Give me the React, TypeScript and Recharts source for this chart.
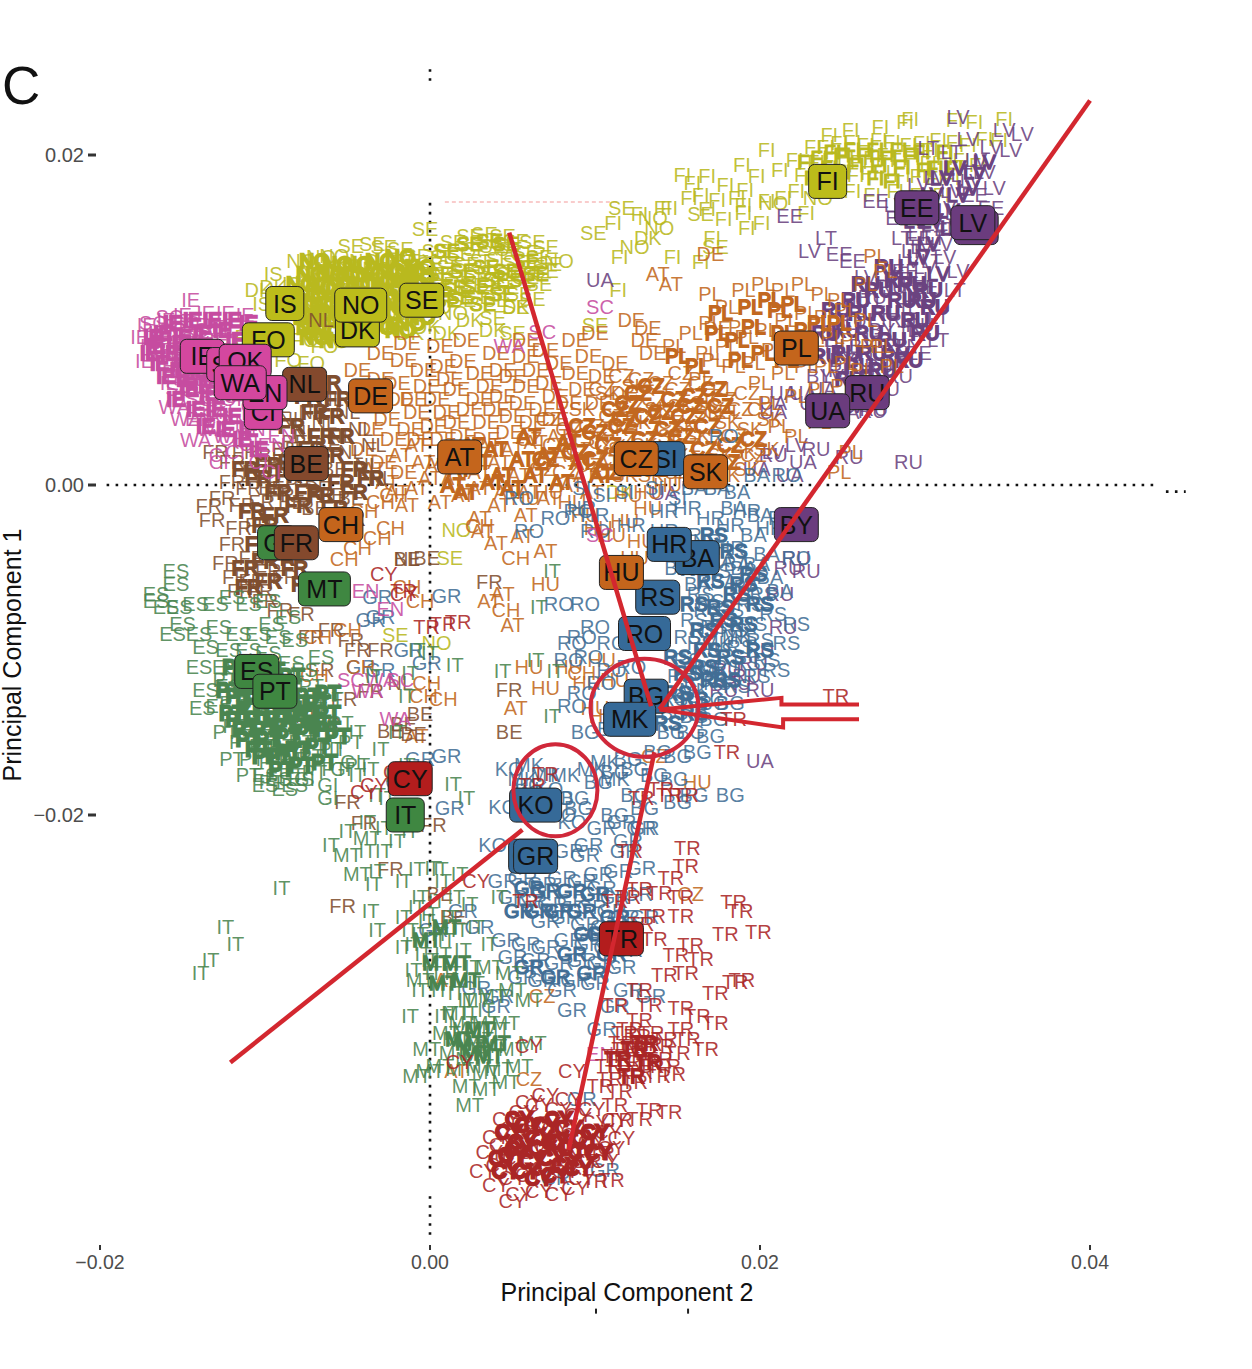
import React from "react";
import { ScatterChart, Scatter, XAxis, YAxis, ReferenceLine, ReferenceDot } from "recharts";

type P = number[];

const SE: P[] = [[-3,155],[-35,146],[-48,145],[-28,144],[-18,143],[-8,139],[3,142],[14,147],[24,151],[33,152],[44,151],[52,148],[62,147],[70,144],[-14,136],[0,134],[8,138],[18,140],[28,143],[38,145],[48,143],[58,141],[66,138],[72,134],[-10,128],[2,128],[12,132],[22,134],[32,136],[42,137],[52,135],[62,132],[70,130],[-4,121],[8,122],[18,126],[28,128],[38,129],[48,128],[58,126],[66,122],[6,116],[16,119],[26,121],[36,122],[46,120],[54,116],[62,113],[20,112],[30,114],[40,112],[52,108],[38,101],[50,92],[116,168],[99,153],[164,164],[173,144],[100,97],[12,-44],[-21,-91]];
const NO: P[] = [[-78,136],[-66,138],[-58,139],[-70,130],[-60,131],[-50,133],[-40,136],[-62,124],[-52,126],[-42,128],[-32,131],[-22,132],[-56,118],[-46,120],[-36,122],[-26,124],[-16,124],[-50,112],[-40,114],[-30,116],[-20,117],[-10,114],[-58,106],[-48,104],[-34,106],[-24,108],[-14,104],[4,108],[14,104],[78,136],[124,144],[139,156],[135,162],[235,174],[208,171],[16,-27],[4,-96]];
const DK: P[] = [[-104,118],[-95,120],[-80,112],[-60,100],[-48,92],[-36,96],[-24,98],[-12,92],[-2,96],[10,92],[24,100],[38,94],[52,108],[-66,92],[132,150],[115,-4]];
const IS: P[] = [[-95,128],[-84,122],[-102,110],[-92,105],[-74,118],[-66,110]];
const FO: P[] = [[-110,90],[-76,88],[-64,84],[-86,76],[-72,74]];
const SE_CORE: P[] = [[-72,128],[-60,128],[-48,128],[-36,128],[-24,130],[-12,130],[-72,116],[-60,116],[-48,116],[-36,116],[-24,118],[-10,122],[-68,104],[-56,104],[-44,98],[-62,94],[-32,110],[-18,108],[-72,96],[-78,122],[-66,120],[-54,122],[-42,122],[-30,124],[-18,124],[-6,126],[-76,110],[-64,110],[-52,110],[-42,108],[-28,112],[-14,114],[-74,102],[-62,100],[-50,100],[-38,102],[-26,104],[-12,98],[-70,90],[-58,88],[-30,96],[-18,94],[-6,102],[-70,136],[-56,134],[-44,134],[-30,136],[-18,138],[-6,132]];
const SE_NET: P[] = [[6,128],[20,130],[34,132],[46,130],[14,120],[28,120],[40,124],[4,118],[10,112],[0,112],[10,142],[24,146],[36,148],[46,146],[58,136],[56,124],[64,128],[44,116],[32,110],[18,114]];
const FI: P[] = [[204,203],[189,194],[168,187],[179,182],[164,176],[191,179],[212,191],[221,197],[242,212],[255,215],[273,217],[288,220],[291,222],[318,221],[330,220],[348,222],[345,209],[303,203],[115,138],[147,138],[164,135],[114,118],[153,188],[159,183],[157,174],[174,173],[168,167],[190,165],[201,159],[192,156],[228,165],[171,150],[145,168],[141,168],[127,164],[111,159],[232,205],[240,205],[248,207],[256,208],[264,206],[272,209],[280,208],[290,206],[298,207],[308,209],[318,208],[326,206],[336,210],[234,196],[243,197],[252,199],[260,196],[268,198],[276,200],[284,197],[292,198],[302,195],[312,198],[322,197],[332,194],[226,188],[238,187],[248,190],[258,188],[266,189],[274,190],[286,188],[296,187],[306,186],[316,186],[244,178],[256,178],[268,176],[282,178],[296,176],[310,176],[222,178],[214,174],[204,172],[190,170],[198,187],[186,174],[178,161]];
const FI_CORE: P[] = [[236,198],[250,200],[264,200],[278,198],[292,200],[250,190],[270,186],[228,196],[242,192],[258,194],[272,194],[286,193],[300,191],[244,202],[256,203],[270,203],[284,203],[298,202],[312,202],[232,186],[280,184],[306,192],[318,192]];

const IE: P[] = [[-145,112],[-173,75],[-176,90],[-170,84],[-172,97],[-150,103],[-136,104],[-124,104],[-112,103],[-160,100],[-165,92],[-158,90],[-150,95],[-140,97],[-130,96],[-120,95],[-162,82],[-154,84],[-146,86],[-138,88],[-128,88],[-160,72],[-152,75],[-144,76],[-158,62],[-150,66],[-142,68],[-132,72]];
const SC: P[] = [[-168,98],[-158,102],[-148,98],[-156,94],[-142,92],[-134,94],[-148,80],[-140,82],[-152,58],[-144,60],[-135,64],[-140,52],[-132,50],[-125,54],[-130,42],[103,108],[68,93],[-48,-118],[-18,-118],[103,-30]];
const WA: P[] = [[-155,47],[-142,27],[-148,40],[-132,34],[-122,30],[48,84],[-21,-142],[-38,-125],[-30,-118]];
const OK: P[] = [[-120,82],[-110,88],[-126,60],[-118,52],[-106,48]];
const EN: P[] = [[-140,40],[-128,44],[-118,38],[-108,34],[-96,24],[-90,30],[-39,-64],[103,-345],[-24,-75]];
const CI: P[] = [[-118,20],[-110,25],[-128,18],[-122,28],[-104,14],[-96,8],[-128,14]];
const IE_CORE: P[] = [[-162,92],[-150,90],[-138,92],[-126,94],[-158,80],[-146,80],[-134,82],[-152,70],[-140,70],[-146,58],[-134,56],[-120,42],[-110,34],[-132,66],[-168,90],[-170,80],[-164,74],[-156,98],[-144,100],[-132,100],[-120,100],[-110,98],[-154,86],[-142,84],[-128,80],[-118,88],[-160,66],[-148,64],[-138,60],[-124,70],[-154,52],[-142,46],[-130,46],[-136,36],[-124,34],[-114,28],[-104,22],[-118,56],[-108,44],[-150,76],[-166,84]];

const FR: P[] = [[-134,-13],[-132,-21],[-124,-47],[-115,-64],[-103,-64],[-91,-76],[-48,-94],[48,-124],[36,-59],[2,-206],[-24,-233],[-53,-255],[-130,20],[-120,14],[-112,20],[-106,8],[-120,2],[-110,-2],[-98,2],[-126,-8],[-114,-12],[-102,-10],[-90,-6],[-116,-26],[-104,-24],[-120,-36],[-108,-44],[-118,-56],[-108,-58],[-98,-52],[-88,-56],[-100,-70],[-78,-78],[-60,-88],[-72,-92],[-44,-100],[-66,-112],[-52,-130],[-36,-125],[-30,-100],[-40,-205],[-50,-192],[-62,-145]];
const BE: P[] = [[-75,30],[-62,24],[-96,18],[-88,22],[-82,26],[-90,10],[-80,4],[-68,2],[-58,10],[-96,-2],[-84,-10],[-70,-14],[-60,-6],[-48,-8],[-14,-45],[-2,-44],[-10,-151],[-16,-145],[-6,-139],[48,-150],[-24,-149],[6,-248],[14,-262]];
const NL: P[] = [[-66,100],[-50,44],[-60,52],[-72,44],[-84,40],[-92,48],[-76,32],[-64,38],[-54,30],[-42,34],[-34,24],[-14,-45],[-48,20],[-38,12],[-30,4],[-74,-140],[-18,-120]];
const CH: P[] = [[-40,-16],[-30,-10],[-22,-6],[-44,-38],[-32,-32],[-24,-26],[-52,-45],[-14,-62],[-6,-70],[46,-76],[-70,-115],[-42,-110],[8,-130],[-2,-120],[-4,-128],[30,-25],[52,-44],[92,-114],[-68,-92],[-50,-88]];
const FR_CORE: P[] = [[-112,10],[-98,12],[-86,6],[-74,-4],[-60,18],[-72,22],[-108,-16],[-94,-18],[-82,-50],[-104,-36],[-98,-58],[-60,42],[-74,54],[-62,62],[-96,-38],[-104,4],[-92,-4],[-80,-12],[-66,-6],[-54,2],[-46,10],[-100,-24],[-88,-30],[-112,-50],[-100,-46],[-90,-44],[-76,-60],[-110,-62],[-84,14],[-70,12],[-54,30],[-66,30],[-84,36],[-70,44],[-56,52],[-46,-4],[-36,4],[-58,-14],[-48,-20]];

const DE: P[] = [[-30,80],[-16,76],[-4,70],[8,72],[20,75],[30,68],[44,70],[58,78],[70,82],[88,88],[100,92],[112,74],[122,100],[130,88],[170,140],[174,95],[132,95],[135,80],[-20,62],[-10,52],[4,52],[16,58],[30,52],[44,54],[58,60],[72,62],[88,68],[104,66],[-26,40],[-12,34],[2,36],[16,38],[34,38],[50,42],[68,46],[84,50],[102,50],[118,56],[-22,28],[-8,44],[10,44],[24,46],[40,46],[56,50],[76,54],[-36,34],[-18,52],[-2,60],[12,64],[36,60],[50,66],[64,70],[92,58],[-44,70],[-30,64],[-40,22],[-28,14],[-16,8],[-6,28],[8,28],[20,30],[34,28],[48,32],[62,38],[76,40],[-14,86],[6,84],[22,88],[40,80],[58,88],[78,74],[96,78]];
const AT: P[] = [[-18,18],[-8,24],[4,12],[14,4],[30,8],[42,14],[54,6],[68,12],[82,18],[94,6],[108,14],[30,-20],[32,-28],[56,-31],[40,-35],[70,-40],[44,-66],[36,-70],[50,-85],[-8,-152],[52,-135],[42,-12],[58,-18],[-20,-4],[-8,-2],[6,-10],[20,-6],[138,128],[146,122],[10,-300],[16,-355],[-34,10],[-26,2],[-14,-12],[0,4],[10,16],[24,20],[36,24],[50,22],[64,26],[78,30],[-4,14],[30,-2],[46,-4],[60,-4],[72,-8],[86,0],[98,-4]];
const CZ: P[] = [[72,40],[84,34],[98,36],[110,42],[122,48],[136,52],[150,58],[164,62],[60,28],[76,24],[90,22],[104,26],[118,30],[132,34],[146,38],[160,42],[174,44],[188,46],[68,10],[82,8],[96,12],[110,16],[126,18],[142,20],[156,24],[170,28],[184,30],[136,-164],[158,-248],[68,-310],[60,-360],[140,62],[152,68],[128,64],[116,66],[104,58],[178,52],[192,56],[200,46],[196,18]];
const SK: P[] = [[92,46],[108,56],[124,60],[138,46],[152,48],[166,50],[180,38],[194,34],[206,40],[100,28],[116,22],[130,24],[146,30],[162,30],[176,18],[190,20],[204,22],[118,6],[134,6],[150,8],[166,14],[180,6],[192,10],[142,14],[168,6],[132,14],[154,36],[168,44],[112,34],[126,38]];
const PL: P[] = [[148,84],[158,92],[170,98],[180,108],[190,118],[202,122],[214,118],[226,122],[238,116],[248,112],[168,80],[180,84],[192,90],[204,94],[216,100],[228,104],[240,102],[252,106],[264,100],[184,72],[196,74],[208,82],[220,84],[232,88],[244,90],[256,88],[268,84],[164,64],[178,58],[200,62],[214,68],[228,72],[240,72],[252,74],[206,50],[222,54],[236,58],[250,60],[262,70],[274,84],[280,72],[188,96],[170,116],[270,139],[276,130],[264,122],[212,36],[222,30],[236,38],[255,20],[248,8],[182,44],[172,76]];
const HU: P[] = [[58,-8],[72,-4],[86,-10],[94,-18],[102,-26],[70,-60],[95,-120],[112,-118],[104,-106],[110,-30],[118,-22],[128,-34],[132,-14],[124,-44],[84,-110],[100,-135],[105,-140],[70,-123],[60,-110],[162,-180],[120,-6],[132,-4],[144,0],[156,4]];
const AT_CORE: P[] = [[22,-4],[18,10],[44,6],[56,16],[80,2],[104,6],[30,14],[38,2],[50,-2],[64,6],[72,18],[92,14],[14,0],[26,24],[40,22],[60,30],[84,26]];
const CZ_CORE: P[] = [[70,16],[88,20],[100,32],[116,36],[130,28],[146,18],[120,50],[132,42],[120,10],[108,24],[124,20],[138,22],[152,30],[166,22],[180,14],[112,46],[126,56],[140,44],[154,42],[168,36],[182,24],[196,28],[148,52],[160,54],[172,58],[136,10],[158,12],[100,16],[92,36],[108,8],[144,34],[158,48],[176,48],[134,60],[118,40]];
const PL_CORE: P[] = [[196,96],[212,106],[228,94],[202,80],[186,88],[174,92],[220,110],[236,98],[248,98],[214,92],[194,108],[206,112],[176,104],[188,76],[216,76],[150,78],[162,72]];

const SI: P[] = [[92,-2],[104,-6],[118,-4],[136,-2],[150,-8],[160,2]];
const HR: P[] = [[100,-18],[122,-24],[142,-16],[156,-14],[170,-20],[182,-24],[142,-28],[156,-30],[168,-34],[182,-38],[92,-14],[192,-16],[206,-26]];
const BA: P[] = [[172,8],[198,6],[174,-2],[186,-4],[200,-18],[176,-46],[190,-50],[204,-42],[178,-58],[192,-62],[206,-56],[212,-64],[150,-50],[162,-60],[160,-2],[184,-14],[196,-30],[186,-48],[198,-48]];
const RS: P[] = [[170,-70],[182,-76],[194,-72],[160,-82],[172,-86],[184,-88],[196,-84],[208,-78],[164,-96],[176,-100],[188,-98],[200,-94],[156,-106],[168,-110],[180,-110],[192,-108],[204,-106],[162,-118],[174,-120],[186,-122],[198,-116],[210,-112],[216,-96],[222,-84],[156,-92],[152,-116],[148,-130],[164,-66],[174,-52],[168,-76],[202,-66],[190,-92]];
const RO: P[] = [[178,30],[164,6],[216,6],[90,-16],[100,-28],[60,-28],[214,-20],[222,-44],[94,-72],[78,-72],[100,-86],[92,-92],[86,-96],[96,-104],[84,-106],[104,-120],[92,-126],[86,-134],[110,-112],[122,-110],[110,-96],[76,-20],[54,-8]];
const BG: P[] = [[156,-128],[170,-130],[182,-132],[148,-138],[160,-140],[172,-142],[146,-150],[158,-150],[170,-152],[138,-162],[150,-164],[162,-162],[124,-172],[136,-176],[148,-178],[124,-188],[112,-174],[102,-180],[120,-166],[160,-188],[182,-188],[150,-192],[130,-196],[112,-200],[60,-182],[90,-196],[172,-132],[110,-148],[94,-150],[88,-190]];
const MK: P[] = [[174,-96],[186,-92],[172,-112],[160,-124],[60,-170],[70,-176],[56,-178],[98,-172],[106,-168],[82,-176],[112,-178]];
const KO: P[] = [[38,-218],[48,-172],[60,-186],[44,-195],[72,-184],[78,-190],[66,-196],[80,-200],[86,-204]];
const GR: P[] = [[-6,-166],[-18,-180],[10,-164],[12,-196],[-30,-80],[-32,-68],[-36,-82],[10,-67],[-13,-100],[-2,-108],[-30,-112],[-42,-110],[128,-208],[116,-204],[120,-216],[104,-208],[96,-218],[84,-222],[94,-224],[102,-236],[114,-234],[128,-232],[44,-240],[56,-238],[68,-242],[80,-238],[92,-240],[104,-244],[112,-250],[126,-248],[50,-250],[62,-252],[74,-254],[86,-252],[98,-256],[110,-258],[70,-264],[82,-262],[94,-266],[106,-268],[118,-262],[130,-262],[84,-276],[96,-278],[108,-280],[120,-282],[92,-288],[104,-290],[116,-292],[46,-276],[58,-278],[70,-280],[50,-286],[64,-288],[78,-290],[88,-300],[100,-302],[56,-298],[68,-300],[80,-306],[30,-268],[28,-305],[42,-310],[86,-318],[112,-316],[120,-306],[134,-310],[104,-330],[92,-372],[76,-420],[106,-415],[40,-316],[130,-208],[118,-222],[20,-258],[2,-270]];
const RS_CORE: P[] = [[168,-100],[182,-104],[178,-82],[160,-130],[172,-118],[190,-60],[200,-72],[160,-138],[166,-88],[176,-74],[186,-66],[196,-54],[170,-58],[160,-50],[184,-40],[172,-30],[190,-84],[200,-100],[166,-110],[180,-118],[150,-126],[144,-144],[156,-114],[150,-104],[160,-72]];
const GR_CORE: P[] = [[70,-246],[86,-246],[100,-248],[92,-258],[104,-272],[60,-244],[54,-258],[66,-258],[78,-258],[112,-262],[96,-272],[110,-284],[86,-284],[98,-296],[76,-298],[60,-292]];

const EE: P[] = [[218,163],[270,172],[284,162],[296,150],[306,158],[288,130],[330,176],[340,168],[300,120],[296,80],[248,140],[256,136]];
const LV: P[] = [[320,223],[359,213],[352,203],[348,215],[326,210],[331,197],[319,165],[230,142],[340,205],[336,190],[342,180],[328,184],[316,178],[306,186],[296,182],[282,170],[292,172],[302,170],[312,168],[324,164],[290,136],[300,132],[312,138],[320,130],[264,126],[276,128],[310,146],[298,144],[208,20],[222,24],[236,42],[244,66],[256,48]];
const LT: P[] = [[302,204],[316,202],[240,150],[312,155],[293,115],[322,188],[306,150],[296,152],[286,150],[292,142],[304,136],[276,112],[262,112],[272,100],[284,106],[296,108],[258,98],[270,88],[284,92],[296,94],[308,102],[318,118],[244,100],[308,88],[282,74]];
const RU: P[] = [[293,125],[297,97],[283,84],[254,17],[290,14],[268,45],[269,46],[248,84],[260,76],[272,72],[250,70],[262,62],[276,58],[284,66],[286,100],[270,66],[256,100],[268,114],[280,120],[234,22],[217,-50],[212,-66],[214,-86],[200,-100],[196,-108],[186,-120],[180,-112],[192,-116],[178,-124],[200,-124],[208,18],[228,-52],[222,-44]];
const UA: P[] = [[103,124],[214,56],[226,56],[238,58],[208,44],[226,14],[218,6],[198,10],[232,50],[244,40],[252,44],[258,48],[200,-167],[142,-5],[208,50]];
const BY: P[] = [[236,88],[250,76],[262,84],[274,94],[290,84],[236,66]];
const RU_CORE: P[] = [[252,94],[266,92],[280,88],[294,100],[262,104],[276,104],[286,112],[252,80],[268,80],[282,78],[240,78],[254,64],[302,118],[240,92],[246,106],[258,112],[272,118],[284,124],[298,112],[306,108],[260,72],[274,70],[290,76],[300,92],[264,122],[278,132],[292,122]];
const LV_CORE: P[] = [[318,192],[330,190],[320,176],[302,146],[310,186],[304,176],[314,166],[326,180],[336,196],[294,160],[304,160],[296,138],[308,128],[316,156]];

const ES: P[] = [[-154,-52],[-154,-60],[-166,-66],[-166,-70],[-160,-74],[-152,-74],[-142,-72],[-130,-72],[-120,-68],[-110,-72],[-98,-70],[-86,-80],[-96,-84],[-150,-84],[-156,-90],[-140,-90],[-128,-86],[-116,-90],[-104,-90],[-92,-92],[-82,-94],[-136,-98],[-122,-100],[-110,-100],[-98,-102],[-84,-108],[-140,-110],[-124,-110],[-112,-112],[-136,-124],[-122,-122],[-66,-104],[-76,-112],[-128,-134],[-138,-135],[-82,-182],[-92,-178],[-100,-182],[-88,-184],[-78,-178],[-100,-176]];
const PT: P[] = [[-124,-118],[-112,-122],[-100,-116],[-120,-132],[-108,-134],[-96,-136],[-84,-128],[-72,-122],[-118,-146],[-106,-148],[-94,-148],[-82,-144],[-70,-136],[-60,-130],[-114,-156],[-102,-158],[-90,-158],[-78,-156],[-66,-150],[-54,-144],[-120,-166],[-108,-166],[-96,-168],[-84,-166],[-72,-164],[-60,-160],[-48,-156],[-110,-176],[-96,-180],[-84,-176],[-70,-174],[-58,-172],[-44,-170],[-124,-150]];
const GI: P[] = [[-62,-182],[-76,-178],[-54,-172],[-62,-190],[-48,-168]];
const IT: P[] = [[-90,-244],[-124,-268],[-118,-278],[-133,-288],[-139,-296],[-36,-258],[-32,-270],[-12,-322],[8,-322],[18,-236],[6,-233],[-8,-233],[-16,-240],[-60,-218],[-50,-210],[-38,-204],[-28,-208],[-26,-190],[-14,-170],[14,-181],[22,-190],[-36,-172],[-44,-176],[-32,-188],[-22,-176],[-20,-216],[-28,-222],[-38,-222],[-12,-210],[-32,-234],[-34,-242],[2,-232],[-20,-150],[-30,-160],[-44,-150],[-56,-160],[-14,-128],[-34,-116],[0,-102],[15,-109],[-8,-100],[-12,-114],[44,-113],[64,-106],[74,-140],[76,-113],[74,-52],[66,-74],[-6,-250],[8,-240],[0,-260],[12,-262],[24,-254],[-16,-262],[-6,-272],[6,-272],[18,-270],[28,-268],[-16,-280],[-4,-284],[8,-284],[20,-282],[-10,-294],[2,-296],[14,-296],[26,-292],[-6,-306],[6,-306],[16,-308],[28,-302],[12,-320],[24,-320],[34,-318],[42,-250],[36,-278],[-2,-264],[10,-276],[-10,-278],[0,-288],[12,-300],[22,-312],[-12,-270],[4,-252],[16,-250],[-8,-256]];
const MT: P[] = [[16,-320],[28,-312],[38,-310],[50,-306],[60,-312],[-2,-342],[10,-332],[22,-330],[34,-326],[46,-326],[14,-344],[26,-342],[38,-340],[50,-342],[62,-338],[6,-352],[18,-354],[30,-352],[42,-354],[54,-352],[22,-364],[34,-366],[46,-362],[24,-376],[-6,-300],[-38,-214],[-50,-224],[-44,-236],[0,-355],[-8,-358],[36,-292],[48,-296],[20,-326],[30,-336],[40,-330],[24,-348],[34,-356],[16,-336]];
const PT_CORE: P[] = [[-116,-128],[-104,-130],[-92,-130],[-80,-132],[-68,-132],[-116,-142],[-104,-142],[-92,-142],[-80,-140],[-68,-144],[-110,-154],[-98,-154],[-86,-152],[-74,-150],[-100,-164],[-86,-162],[-112,-114],[-122,-124],[-120,-138],[-110,-126],[-98,-124],[-86,-122],[-74,-128],[-62,-126],[-110,-136],[-98,-138],[-86,-136],[-74,-138],[-62,-138],[-112,-148],[-100,-148],[-88,-146],[-76,-146],[-62,-148],[-104,-160],[-92,-164],[-80,-160],[-68,-158],[-56,-152],[-118,-110],[-108,-108],[-96,-112],[-84,-116],[-90,-172],[-78,-170],[-64,-168]];
const MT_CORE: P[] = [[24,-338],[30,-330],[36,-346],[18,-336],[16,-290],[4,-290],[8,-302],[22,-300],[-2,-276],[10,-268],[28,-344],[40,-338]];

const CY: P[] = [[-12,-184],[-20,-174],[-34,-182],[-40,-186],[-16,-66],[-28,-54],[18,-350],[28,-240],[60,-340],[86,-355],[40,-395],[46,-384],[56,-380],[66,-376],[78,-378],[90,-382],[100,-386],[108,-392],[116,-396],[36,-404],[44,-400],[54,-394],[64,-392],[76,-390],[88,-394],[98,-398],[110,-402],[32,-416],[42,-412],[52,-408],[62,-404],[72,-402],[84,-406],[94,-410],[106,-410],[40,-424],[50,-420],[60,-418],[70,-414],[82,-416],[92,-420],[54,-430],[66,-428],[78,-430],[88,-426],[50,-434],[60,-374],[70,-370],[84,-372],[98,-378],[112,-385]];
const TR: P[] = [[156,-220],[155,-231],[146,-238],[121,-222],[127,-245],[139,-247],[152,-250],[135,-261],[152,-261],[184,-253],[188,-258],[179,-272],[199,-271],[158,-279],[149,-285],[164,-287],[142,-297],[155,-296],[185,-301],[189,-300],[173,-308],[127,-306],[112,-315],[133,-315],[152,-317],[127,-324],[173,-326],[121,-330],[152,-330],[133,-339],[167,-342],[118,-342],[139,-348],[127,-356],[147,-357],[109,-360],[115,-367],[103,-364],[112,-376],[133,-379],[145,-380],[115,-385],[127,-384],[110,-421],[246,-128],[184,-142],[180,-162],[145,-188],[155,-188],[140,-184],[128,-190],[17,-83],[8,-84],[-16,-64],[-2,-86],[70,-175],[62,-182],[58,-252],[120,-250],[112,-252],[128,-266],[120,-270],[136,-275],[118,-332],[126,-334],[134,-332],[142,-336],[112,-346],[120,-350],[130,-344],[140,-340],[150,-344],[114,-356],[124,-362],[134,-352],[144,-352],[156,-336],[162,-322],[96,-410],[104,-405],[100,-422],[122,-340],[128,-348],[138,-358],[116,-338],[108,-352]];
const CY_CORE: P[] = [[56,-398],[66,-396],[76,-398],[50,-406],[62,-410],[74,-408],[86,-402],[58,-416],[70,-388],[82,-412],[48,-392],[60,-388],[84,-390],[94,-396],[44,-408],[54,-402],[68,-402],[80,-398],[92,-404],[102,-404],[46,-416],[66,-420],[76,-418],[90,-414],[54,-384],[78,-384],[100,-392]];
const TR_CORE: P[] = [[124,-342],[132,-350],[122,-358],[114,-348],[130,-338]];

// text layers, back to front: [code, points, extra stroke]
const TEXT_LAYERS: [string, P[], number][] = [
    ["FI", FI, 0], ["FI", FI_CORE, 1.2], ["SE", SE, 0], ["NO", NO, 0], ["DK", DK, 0],
    ["IS", IS, 0], ["FO", FO, 0], ["SE", SE_NET, 1], ["NO", SE_CORE, 2.6],
    ["LV", LV, 0], ["LT", LT, 0], ["EE", EE, 0], ["LV", LV_CORE, 1.4], ["RU", RU_CORE, 2], ["RU", RU, 0], ["UA", UA, 0], ["BY", BY, 0],
    ["DE", DE, 0], ["AT", AT, 0], ["CZ", CZ, 0], ["SK", SK, 0], ["PL", PL, 0], ["HU", HU, 0], ["AT", AT_CORE, 1.8], ["CZ", CZ_CORE, 1.8], ["PL", PL_CORE, 1.8],
    ["RS", RS_CORE, 1.6], ["GR", GR_CORE, 1.2], ["SI", SI, 0], ["HR", HR, 0], ["BA", BA, 0], ["RS", RS, 0], ["RO", RO, 0], ["BG", BG, 0], ["MK", MK, 0], ["KO", KO, 0], ["GR", GR, 0],
    ["FR", FR_CORE, 2], ["FR", FR, 0], ["BE", BE, 0], ["NL", NL, 0], ["CH", CH, 0],
    ["IE", IE_CORE, 2.4], ["IE", IE, 0], ["SC", SC, 0], ["WA", WA, 0], ["OK", OK, 0], ["EN", EN, 0], ["CI", CI, 0],
    ["ES", ES, 0], ["PT", PT, 0], ["PT", PT_CORE, 2.8], ["GI", GI, 0], ["IT", IT, 0], ["MT", MT, 0], ["MT", MT_CORE, 1.6],
    ["TR", TR, 0], ["TR", TR_CORE, 1.8], ["CY", CY, 0], ["CY", CY_CORE, 2.8],
];

// population medians, back to front: [code, pc2, pc1]
const MEDIANS: [string, number, number][] = [
    ["FI",241,184],["EE",295,168],["LV",331,156],["LV",329,159],["PL",222,83],["RU",265,56],["UA",241,45],
    ["SI",143,16],["CZ",125,16],["SK",167,8],["BY",222,-24],["BA",162,-44],["HR",145,-36],["RO",130,-90],["RS",138,-68],["HU",116,-53],
    ["BG",131,-128],["MK",121,-142],["KO",64,-194],["GR",61,-225],["GR",64,-225],["TR",116,-275],
    ["IT",-15,-200],["CY",-12,-178],["ES",-105,-113],["PT",-94,-125],["MT",-64,-63],["GI",-93,-35],["CH",-54,-24],["FR",-81,-35],
    ["BE",-75,13],["AT",18,17],["DE",-36,54],["NL",-76,61],["IS",-88,110],["DK",-44,94],["NO",-42,109],["SE",-5,112],["FO",-98,88],
    ["IE",-138,78],["SC",-122,73],["OK",-112,75],["CI",-101,44],["EN",-100,56],["WA",-115,62],
];

// annotations drawn on top of the figure
const ARROW_TO_RIGHT: P[] = [[400,233],[139,-136]];
const ARROW_FROM_TOP: P[] = [[48,153],[134,-134]];
const ARROW_TO_LEFT: P[] = [[-121,-350],[56,-209]];
const ARROW_TO_BOTTOM: P[] = [[136,-162],[84,-403]];
const OUTLINE_ARROW: P[] = [[260,-133],[213,-133],[213,-129],[139,-136],[214,-147],[214,-142],[260,-142]];
const ELLIPSES: [number, number, number, number][] = [[130,-135,54,49],[76,-185,42,46]];
const RED_PATHS = [ARROW_TO_RIGHT, ARROW_FROM_TOP, ARROW_TO_LEFT, ARROW_TO_BOTTOM, OUTLINE_ARROW];

const X_TICKS = [-0.02, 0, 0.02, 0.04];
const Y_TICKS = [0.02, 0, -0.02, -0.04];

const BOX_COLORS: Record<string, string> = {
    yellow: "#bcbc1a", magenta: "#d4479f", brown: "#84492d", orange: "#c4651c",
    blue: "#366a98", purple: "#6b3c7e", green: "#3f8741", red: "#b31d1d",
};
const TEXT_COLORS: Record<string, string> = {
    yellow: "#b9b91e", magenta: "#c64ca0", brown: "#7f4f30", orange: "#c26820",
    blue: "#426e95", purple: "#6b4380", green: "#4a8550", red: "#aa2626",
};
const GROUPS: Record<string, string[]> = {
    yellow: ["FI", "SE", "NO", "DK", "IS", "FO"],
    magenta: ["IE", "SC", "WA", "OK", "EN", "CI"],
    brown: ["FR", "BE", "NL"],
    orange: ["CH", "DE", "AT", "CZ", "SK", "PL", "HU"],
    blue: ["SI", "HR", "BA", "RS", "RO", "BG", "MK", "KO", "GR"],
    purple: ["EE", "LV", "LT", "RU", "UA", "BY"],
    green: ["ES", "PT", "GI", "IT", "MT"],
    red: ["CY", "TR"],
};
const groupOf = (code: string) => Object.keys(GROUPS).find((k) => GROUPS[k].includes(code)) || "brown";

const FONT = '"Liberation Sans", Arial, sans-serif';
const RED = "#d3272f";

const toData = (pts: P[]) => pts.map(([x, y]) => ({ x: x / 10000, y: y / 10000 }));

function CodeText({ cx, cy, code, weight }: any) {
    const color = TEXT_COLORS[groupOf(code)];
    return (
        <text x={cx} y={cy + 7} textAnchor="middle" fontFamily={FONT} fontSize={20} fill={color}
            fillOpacity={weight ? 1 : 0.88} stroke={weight ? color : "none"} strokeWidth={weight}>
            {code}
        </text>
    );
}

function MedianBox({ cx, cy, payload }: any) {
    const code = payload.code;
    const wide = /[MWO]/.test(code) ? 8 : 0;
    const w = /I/.test(code) && code !== "IE" ? 38 : 44 + wide;
    return (
        <g>
            <rect x={cx - w / 2} y={cy - 17} width={w} height={34} rx={6} fill={BOX_COLORS[groupOf(code)]} stroke="#222" strokeWidth={1} />
            <text x={cx} y={cy + 9} textAnchor="middle" fontFamily={FONT} fontSize={25} fill="#111">{code}</text>
        </g>
    );
}

function XTick({ x, y, payload }: any) {
    const label = payload.value < 0 ? "\u22120.02" : payload.value.toFixed(2);
    return (
        <g>
            <rect x={x - 1} y={y} width={2} height={5} fill="#333" />
            <text x={x} y={y + 24} textAnchor="middle" fontFamily={FONT} fontSize={19.5} fill="#4d4d4d">{label}</text>
        </g>
    );
}

function YTick({ y, payload }: any) {
    const v = payload.value;
    const label = (v < 0 ? "\u2212" : "") + Math.abs(v).toFixed(2);
    const cut = v === -0.04;
    return (
        <g>
            {!cut && <rect x={88} y={y - 1.5} width={8} height={3} fill="#333" />}
            <defs><clipPath id="cutTick"><rect x={0} y={y - 20} width={50} height={40} /></clipPath></defs>
            <text x={84} y={y + 7} textAnchor="end" fontFamily={FONT} fontSize={20} fill="#4d4d4d"
                clipPath={cut ? "url(#cutTick)" : undefined}>{label}</text>
        </g>
    );
}

function EllipseMark({ cx, cy, rx, ry }: any) {
    return <ellipse cx={cx} cy={cy} rx={rx} ry={ry} fill="none" stroke="#d0283a" strokeWidth={4} />;
}

function Speck({ cx, cy }: any) {
    return <rect x={cx - 1} y={cy - 3} width={2} height={5} fill="#222" />;
}

const xTitle = () => <text x={627} y={1301} textAnchor="middle" fontFamily={FONT} fontSize={25} fill="#111">Principal Component 2</text>;
const yTitle = () => <text transform="translate(21,655) rotate(-90)" textAnchor="middle" fontFamily={FONT} fontSize={25} fill="#111">Principal Component 1</text>;

export default function App() {
    const dots = { stroke: "#111", strokeWidth: 2.6, strokeDasharray: "2.6 6.4", ifOverflow: "visible" as const };
    return (
        <div style={{ position: "absolute", left: 0, top: 0, width: 1252, height: 1369, background: "#fff" }}>
            <div style={{ position: "absolute", left: 2, top: 56, fontFamily: FONT, fontSize: 53, color: "#111", lineHeight: "60px" }}>C</div>
            <ScatterChart width={1252} height={1369} margin={{ top: 60, right: 62, left: 0, bottom: 64 }}>
                <XAxis type="number" dataKey="x" domain={[-0.020182, 0.04606]} ticks={X_TICKS} height={60}
                    axisLine={false} tickLine={false} tickSize={0} tickMargin={0} tick={<XTick />} allowDataOverflow
                    label={{ content: xTitle }} />
                <YAxis type="number" dataKey="y" domain={[-0.046061, 0.025758]} ticks={Y_TICKS} width={97}
                    axisLine={false} tickLine={false} tickSize={0} tickMargin={0} tick={<YTick />} allowDataOverflow
                    label={{ content: yTitle }} />
                <ReferenceLine {...dots} segment={[{ x: -0.0196, y: 0 }, { x: 0.044, y: 0 }]} />
                <ReferenceLine {...dots} segment={[{ x: 0.0446, y: -0.0004 }, { x: 0.0458, y: -0.0004 }]} />
                <ReferenceLine {...dots} segment={[{ x: 0, y: 0.0252 }, { x: 0, y: 0.0243 }]} />
                <ReferenceLine {...dots} segment={[{ x: 0, y: 0.0171 }, { x: 0, y: -0.0415 }]} />
                <ReferenceLine {...dots} segment={[{ x: 0, y: -0.0431 }, { x: 0, y: -0.0457 }]} />
                <ReferenceLine segment={[{ x: 0.0009, y: 0.01715 }, { x: 0.0115, y: 0.01715 }]} stroke="#f7bcbc" strokeWidth={1.5} strokeDasharray="4 3" />
                {TEXT_LAYERS.map(([code, pts, weight], i) => (
                    <Scatter key={i} data={toData(pts)} isAnimationActive={false}
                        shape={(p: any) => <CodeText cx={p.cx} cy={p.cy} code={code} weight={weight} />} />
                ))}
                <Scatter data={MEDIANS.map(([code, x, y]) => ({ code, x: x / 10000, y: y / 10000 }))} isAnimationActive={false} shape={<MedianBox />} />
                {RED_PATHS.map((pts, i) => (
                    <Scatter key={"r" + i} data={toData(pts)} isAnimationActive={false} line={{ stroke: RED, strokeWidth: i === 4 ? 4 : 4.5 }} shape={() => <g />} />
                ))}
                {ELLIPSES.map(([x, y, rx, ry], i) => (
                    <ReferenceDot key={i} x={x / 10000} y={y / 10000} ifOverflow="visible" shape={(p: any) => <EllipseMark cx={p.cx} cy={p.cy} rx={rx} ry={ry} />} />
                ))}
                <ReferenceDot x={0.01006} y={-0.0501} ifOverflow="visible" shape={<Speck />} />
                <ReferenceDot x={0.01564} y={-0.0501} ifOverflow="visible" shape={<Speck />} />
            </ScatterChart>
        </div>
    );
}
